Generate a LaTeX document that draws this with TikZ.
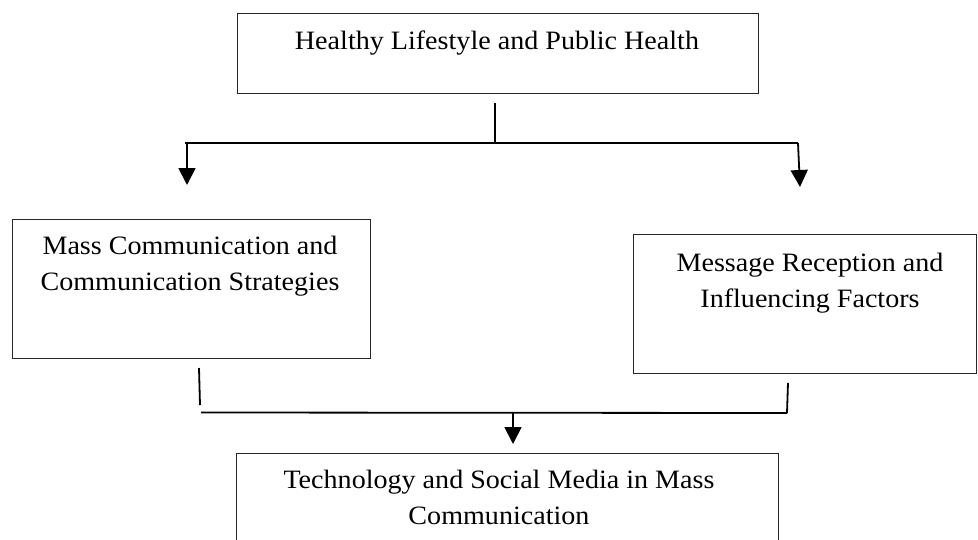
\documentclass[tikz,border=0pt]{standalone}
\usepackage{fontspec}
\setmainfont{Liberation Serif}[FakeStretch=1.06]
\usetikzlibrary{arrows.meta}
\begin{document}
\begin{tikzpicture}[x=1pt,y=-1pt,
  box/.style={draw=black!85, line width=1.3pt, inner sep=0pt},
  lbl/.style={align=center, font=\fontsize{26.5}{36}\selectfont, inner sep=0pt, anchor=north},
  link/.style={line width=1.8pt},
  arr/.style={link, -{Triangle[width=17pt,length=17pt]}}]
\useasboundingbox (0,0) rectangle (978,539);

% boxes
\node[box, anchor=north west, minimum width=521pt, minimum height=80pt]  (health) at (237,13)  {};
\node[box, anchor=north west, minimum width=358pt, minimum height=139pt] (mass)   at (12,219)  {};
\node[box, anchor=north west, minimum width=343pt, minimum height=139pt] (recep)  at (633,234) {};
\node[box, anchor=north west, minimum width=542pt, minimum height=120pt] (tech)   at (236,453) {};

% box texts
\node[lbl] (healthtxt) at (497,31)  {Healthy Lifestyle and Public Health};
\node[lbl] (masstxt)   at (190,236) {Mass Communication and\\Communication Strategies};
\node[lbl] (receptxt)  at (810,253) {Message Reception and\\Influencing Factors};
\node[lbl] (techtxt)   at (499,470) {Technology and Social Media in Mass\\Communication};

% upper split
\coordinate (stub) at (495,103);
\coordinate (hub)  at (495,143);
\coordinate (barL) at (185,143);
\coordinate (barR) at (798,143);
\coordinate (dropL) at (187,143);
\coordinate (tipL)  at (187,185);
\coordinate (tipR)  at (800,187);
\draw[link] (stub) -- (hub);
\draw[link] (barL) -- (barR);
\draw[arr] (dropL) -- (tipL);
\draw[arr] (barR) -- (tipR);

% lower merge
\coordinate (legLa) at (199,368);
\coordinate (legLb) at (200,405);
\coordinate (legRa) at (788,383);
\coordinate (legRb) at (787,413);
\coordinate (mergeL) at (201,412.5);
\coordinate (mergeM) at (513,412.5);
\coordinate (tipM)   at (513,444);
\draw[link] (legLa) -- (legLb);
\draw[link] (legRa) -- (legRb);
\draw[link] (mergeL) -- (legRb);
\draw[arr] (mergeM) -- (tipM);
\end{tikzpicture}
\end{document}
